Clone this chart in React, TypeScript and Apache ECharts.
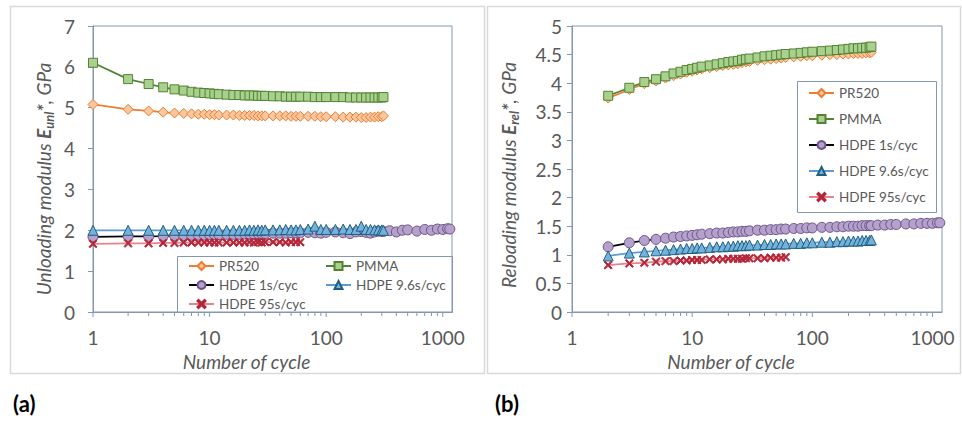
import React, { useEffect, useRef } from "react";
import * as echarts from "echarts";

// Sampled cycle numbers (log-spaced so markers form a continuous band)
const CYCLES = [
  1, 2, 3, 4, 5, 6, 7, 8, 9, 10, 11, 12,
  14, 16, 18, 20, 22, 24, 26, 28, 30,
  35, 40, 45, 50, 55, 60,
  70, 80, 90, 100,
  120, 140, 160, 180, 200, 220, 240, 260, 280, 300,
  310,
  350, 400, 450, 500, 600, 700, 800, 900, 1000, 1100, 1150,
];
// Reloading is measured from cycle 2 onwards
const RELOAD_CYCLES = CYCLES.slice(1);

// (a) Unloading modulus, GPa
const UNL_PR520 = [
  5.08, 4.96, 4.92, 4.89, 4.87, 4.86, 4.85, 4.84, 4.84, 4.83, 4.83, 4.82,
  4.82, 4.82, 4.81, 4.81, 4.81, 4.81, 4.8, 4.8, 4.8,
  4.8, 4.8, 4.8, 4.79, 4.79, 4.79,
  4.79, 4.79, 4.78, 4.78,
  4.78, 4.77, 4.77, 4.77, 4.76, 4.76, 4.77, 4.77, 4.78, 4.78,
  4.8,
];
const UNL_PMMA = [
  6.1, 5.7, 5.58, 5.5, 5.45, 5.42, 5.39, 5.37, 5.36, 5.35, 5.34, 5.33,
  5.32, 5.31, 5.31, 5.3, 5.3, 5.3, 5.29, 5.29, 5.29,
  5.28, 5.28, 5.27, 5.27, 5.27, 5.27,
  5.27, 5.26, 5.26, 5.26,
  5.26, 5.26, 5.25, 5.25, 5.25, 5.25, 5.25, 5.25, 5.25, 5.25,
  5.26,
];
const UNL_HDPE_1S = [
  1.84, 1.85, 1.85, 1.86, 1.87, 1.87, 1.88, 1.88, 1.88, 1.89, 1.89, 1.89,
  1.9, 1.9, 1.9, 1.91, 1.91, 1.91, 1.92, 1.92, 1.92,
  1.93, 1.93, 1.93, 1.94, 1.94, 1.94,
  1.95, 1.94, 1.93, 1.95,
  1.96, 1.94, 1.92, 1.96, 1.97, 1.95, 1.93, 1.96, 1.98, 1.97,
  1.97,
  1.99, 1.96, 2.0, 2.01, 1.98, 2.02, 2.0, 2.03, 2.02, 2.04, 2.03,
];
const UNL_HDPE_9_6S = [
  2.0, 2.0, 2.0, 2.0, 2.0, 2.0, 2.0, 2.0, 2.0, 2.0, 2.0, 2.0,
  2.0, 2.0, 2.0, 2.0, 2.01, 2.0, 2.01, 2.0, 2.01,
  2.01, 2.01, 2.02, 2.01, 2.01, 2.02,
  2.03, 2.1, 2.02, 2.02,
  2.02, 2.03, 2.02, 2.02, 2.1, 2.02, 2.02, 2.01, 2.01, 2.01,
  2.0,
];
const UNL_HDPE_95S = [
  1.67, 1.68, 1.68, 1.69, 1.69, 1.7, 1.7, 1.7, 1.7, 1.7, 1.7, 1.7,
  1.7, 1.7, 1.7, 1.7, 1.71, 1.7, 1.71, 1.7, 1.71,
  1.71, 1.71, 1.7, 1.71, 1.71, 1.71,
];

// (b) Reloading modulus, GPa
const REL_PR520 = [
  3.74, 3.89, 3.99, 4.04, 4.09, 4.13, 4.16, 4.19, 4.21, 4.23, 4.25,
  4.27, 4.29, 4.31, 4.32, 4.33, 4.34, 4.36, 4.37, 4.38,
  4.4, 4.41, 4.42, 4.43, 4.44, 4.45,
  4.46, 4.47, 4.48, 4.48,
  4.49, 4.5, 4.5, 4.51, 4.51, 4.52, 4.52, 4.52, 4.53, 4.53,
  4.54,
];
const REL_PMMA = [
  3.78, 3.92, 4.02, 4.07, 4.12, 4.17, 4.2, 4.23, 4.25, 4.27, 4.29,
  4.31, 4.33, 4.35, 4.37, 4.38, 4.39, 4.41, 4.42, 4.43,
  4.45, 4.47, 4.48, 4.49, 4.5, 4.51,
  4.52, 4.53, 4.54, 4.55,
  4.56, 4.57, 4.58, 4.59, 4.6, 4.61, 4.61, 4.62, 4.62, 4.63,
  4.64,
];
const REL_HDPE_1S = [
  1.14, 1.21, 1.25, 1.27, 1.29, 1.31, 1.32, 1.33, 1.34, 1.35, 1.36,
  1.37, 1.38, 1.38, 1.39, 1.4, 1.4, 1.41, 1.41, 1.42,
  1.43, 1.43, 1.44, 1.44, 1.45, 1.45,
  1.46, 1.46, 1.47, 1.47,
  1.48, 1.48, 1.49, 1.49, 1.5, 1.5, 1.5, 1.51, 1.51, 1.51,
  1.51,
  1.52, 1.52, 1.53, 1.53, 1.54, 1.54, 1.55, 1.55, 1.55, 1.56, 1.56,
];
const REL_HDPE_9_6S = [
  0.98, 1.03, 1.05, 1.07, 1.08, 1.09, 1.1, 1.11, 1.11, 1.12, 1.12,
  1.13, 1.14, 1.14, 1.15, 1.15, 1.16, 1.16, 1.16, 1.17,
  1.17, 1.18, 1.18, 1.19, 1.19, 1.19,
  1.2, 1.2, 1.21, 1.21,
  1.22, 1.22, 1.23, 1.23, 1.24, 1.24, 1.24, 1.25, 1.25, 1.25,
  1.26,
];
const REL_HDPE_95S = [
  0.82, 0.85, 0.86, 0.88, 0.89, 0.89, 0.9, 0.9, 0.91, 0.91, 0.91,
  0.92, 0.92, 0.92, 0.93, 0.93, 0.93, 0.93, 0.94, 0.94,
  0.94, 0.94, 0.95, 0.95, 0.95, 0.96,
];

const SERIES_NAMES = ["PR520", "PMMA", "HDPE 1s/cyc", "HDPE 9.6s/cyc", "HDPE 95s/cyc"];

// Log-axis tick positions
const MAJOR_TICKS = [1, 10, 100, 1000];
const MINOR_TICKS = [
  2, 3, 4, 5, 6, 7, 8, 9,
  20, 30, 40, 50, 60, 70, 80, 90,
  200, 300, 400, 500, 600, 700, 800, 900,
];

const FONT = "Lato, 'Open Sans', sans-serif";
const TEXT = "#595959";
const AXIS = "#8497B0";
const PANEL = "#D9D9D9";

const CROSS =
  "path://M1.2,0 L5,3.8 L8.8,0 L10,1.2 L6.2,5 L10,8.8 L8.8,10 L5,6.2 L1.2,10 L0,8.8 L3.8,5 L0,1.2 Z";

const STYLES: Record<string, any> = {
  PR520: { symbol: "diamond", size: 10, line: "#ED7D31", fill: "#F9C79E", border: "#ED7D31" },
  PMMA: { symbol: "rect", size: 9, line: "#548235", fill: "#A9D18E", border: "#548235" },
  "HDPE 1s/cyc": { symbol: "circle", size: 10, line: "#000000", fill: "#B4A2CC", border: "#6E5289" },
  "HDPE 9.6s/cyc": { symbol: "triangle", size: 10, line: "#5B9BD5", fill: "#72B2DC", border: "#215F80" },
  "HDPE 95s/cyc": { symbol: CROSS, size: 8, line: "#E6848A", fill: "#B3263A", border: "#B3263A" },
};

const pairs = (xs: number[], ys: number[]) => ys.map((y, i) => [xs[i], y]);

function lineSeries(name: string, data: number[][], axisIndex: number) {
  const s = STYLES[name];
  return {
    type: "line",
    name,
    xAxisIndex: axisIndex,
    yAxisIndex: axisIndex,
    data,
    symbol: s.symbol,
    symbolSize: s.size,
    showAllSymbol: true,
    lineStyle: { color: s.line, width: 1.75 },
    itemStyle: { color: s.fill, borderColor: s.border, borderWidth: 1 },
    emphasis: { disabled: true },
    z: 3,
  };
}

function tickSeries(axisIndex: number, values: number[], len: number) {
  return {
    type: "custom",
    xAxisIndex: axisIndex,
    yAxisIndex: axisIndex,
    silent: true,
    clip: false,
    data: values.map((v) => [v, 0]),
    renderItem: (_params: any, api: any) => {
      const p = api.coord([api.value(0), 0]);
      return {
        type: "line",
        shape: { x1: p[0], y1: p[1], x2: p[0], y2: p[1] + len },
        style: { stroke: AXIS, lineWidth: 1 },
      };
    },
    z: 1,
  };
}

const logLabel = (v: number) => {
  const hit = MAJOR_TICKS.find((t) => Math.abs(v - t) < t * 1e-6);
  return hit !== undefined ? String(hit) : "";
};

function xAxis(gridIndex: number) {
  return {
    type: "log",
    logBase: 10,
    gridIndex,
    min: 1,
    max: 1200,
    name: "Number of cycle",
    nameLocation: "middle",
    nameGap: 28,
    nameTextStyle: {
      fontFamily: FONT,
      fontSize: 19,
      fontStyle: "italic",
      color: TEXT,
      padding: [0, 52, 0, 0],
    },
    axisLine: { show: true, lineStyle: { color: AXIS, width: 1 } },
    axisTick: { show: false },
    splitLine: { show: false },
    minorTick: { show: false },
    axisLabel: {
      formatter: logLabel,
      fontFamily: FONT,
      fontSize: 19,
      color: TEXT,
      margin: 16,
    },
  };
}

function yName(label: string, sub: string) {
  return `{n|${label} }{e|E}{s|${sub}}{e|*}{n|, GPa}`;
}

function yAxis(
  gridIndex: number,
  max: number,
  interval: number,
  name: string,
  gap: number,
  margin: number,
  shift: number
) {
  return {
    type: "value",
    gridIndex,
    min: 0,
    max,
    interval,
    name,
    nameLocation: "middle",
    nameGap: gap,
    nameTextStyle: {
      padding: [0, shift, 0, 0],
      rich: {
        n: { fontFamily: FONT, fontSize: 19, fontStyle: "italic", color: TEXT, lineHeight: 24 },
        e: { fontFamily: FONT, fontSize: 19, fontStyle: "italic", fontWeight: "bold", color: TEXT, lineHeight: 24 },
        s: {
          fontFamily: FONT,
          fontSize: 13,
          fontStyle: "italic",
          fontWeight: "bold",
          color: TEXT,
          lineHeight: 13,
          verticalAlign: "bottom",
        },
      },
    },
    axisLine: { show: true, lineStyle: { color: AXIS, width: 1 } },
    axisTick: { show: true, length: 5, lineStyle: { color: AXIS } },
    splitLine: { show: false },
    axisLabel: { fontFamily: FONT, fontSize: 19, color: TEXT, margin },
  };
}

const legendText = { fontFamily: FONT, fontSize: 13.5, color: TEXT, lineHeight: 16 };

export default function App() {
  const ref = useRef<HTMLDivElement>(null);

  useEffect(() => {
    if (!ref.current) return;
    const chart = echarts.init(ref.current, undefined, { renderer: "svg" });

    const option = {
      animation: false,
      backgroundColor: "#ffffff",
      grid: [
        { left: 93, top: 26, width: 359, height: 286, show: true, borderColor: AXIS, borderWidth: 1, backgroundColor: "transparent", outerBoundsMode: "none" },
        { left: 572, top: 26, width: 370, height: 286, show: true, borderColor: AXIS, borderWidth: 1, backgroundColor: "transparent", outerBoundsMode: "none" },
      ],
      xAxis: [xAxis(0), xAxis(1)],
      yAxis: [
        yAxis(0, 7, 1, yName("Unloading modulus", "unl"), 38, 18, 20),
        yAxis(1, 5, 0.5, yName("Reloading modulus", "rel"), 52, 10, 12),
      ],
      legend: [
        {
          data: [SERIES_NAMES[0], SERIES_NAMES[2], SERIES_NAMES[4]],
          orient: "vertical",
          left: 188,
          top: 258,
          padding: 0,
          itemGap: 3,
          itemWidth: 25,
          itemHeight: 10,
          textStyle: legendText,
          selectedMode: false,
        },
        {
          data: [SERIES_NAMES[1], SERIES_NAMES[3]],
          orient: "vertical",
          left: 325,
          top: 258,
          padding: 0,
          itemGap: 3,
          itemWidth: 25,
          itemHeight: 10,
          textStyle: legendText,
          selectedMode: false,
        },
        {
          data: SERIES_NAMES,
          orient: "vertical",
          left: 808,
          top: 85,
          padding: 0,
          itemGap: 10,
          itemWidth: 25,
          itemHeight: 10,
          textStyle: legendText,
          selectedMode: false,
        },
      ],
      graphic: [
        { type: "rect", shape: { x: 10.5, y: 6.5, width: 474, height: 367 }, style: { fill: "none", stroke: PANEL, lineWidth: 1.5 }, silent: true },
        { type: "rect", shape: { x: 487.5, y: 6.5, width: 473, height: 367 }, style: { fill: "none", stroke: PANEL, lineWidth: 1.5 }, silent: true },
        { type: "rect", shape: { x: 177.5, y: 256.5, width: 275, height: 56 }, style: { fill: "none", stroke: AXIS, lineWidth: 1 }, silent: true },
        { type: "rect", shape: { x: 797.5, y: 81.5, width: 139, height: 131 }, style: { fill: "none", stroke: AXIS, lineWidth: 1 }, silent: true },
        { type: "text", left: 13, top: 392, style: { text: "(a)", fontFamily: FONT, fontSize: 22, fontWeight: "bold", fill: "#000000" } },
        { type: "text", left: 495, top: 392, style: { text: "(b)", fontFamily: FONT, fontSize: 22, fontWeight: "bold", fill: "#000000" } },
      ],
      series: [
        lineSeries("PR520", pairs(CYCLES, UNL_PR520), 0),
        lineSeries("PMMA", pairs(CYCLES, UNL_PMMA), 0),
        lineSeries("HDPE 1s/cyc", pairs(CYCLES, UNL_HDPE_1S), 0),
        lineSeries("HDPE 9.6s/cyc", pairs(CYCLES, UNL_HDPE_9_6S), 0),
        lineSeries("HDPE 95s/cyc", pairs(CYCLES, UNL_HDPE_95S), 0),
        lineSeries("PR520", pairs(RELOAD_CYCLES, REL_PR520), 1),
        lineSeries("PMMA", pairs(RELOAD_CYCLES, REL_PMMA), 1),
        lineSeries("HDPE 1s/cyc", pairs(RELOAD_CYCLES, REL_HDPE_1S), 1),
        lineSeries("HDPE 9.6s/cyc", pairs(RELOAD_CYCLES, REL_HDPE_9_6S), 1),
        lineSeries("HDPE 95s/cyc", pairs(RELOAD_CYCLES, REL_HDPE_95S), 1),
        tickSeries(0, MAJOR_TICKS, 5),
        tickSeries(0, MINOR_TICKS, 4),
        tickSeries(1, MAJOR_TICKS, 5),
        tickSeries(1, MINOR_TICKS, 4),
      ],
    };

    chart.setOption(option as any);
    return () => chart.dispose();
  }, []);

  return (
    <div
      ref={ref}
      style={{ position: "fixed", left: 0, top: 0, width: 962, height: 422, background: "#ffffff" }}
    />
  );
}
